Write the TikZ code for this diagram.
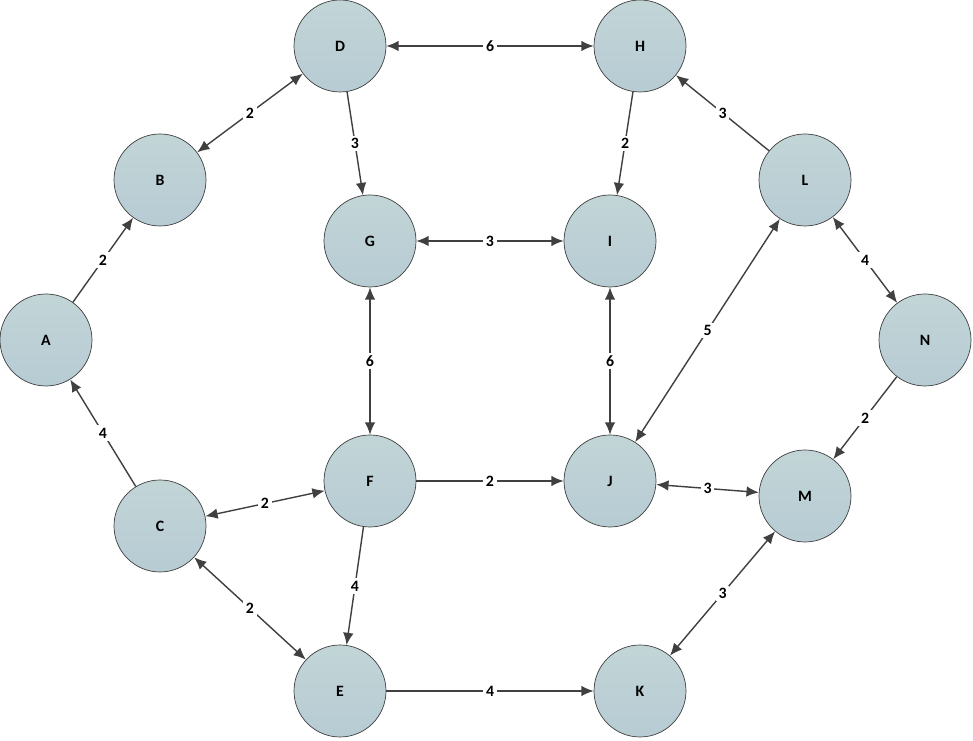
\documentclass[tikz,border=0pt]{standalone}
\usepackage{fontspec}
\setmainfont{Carlito}
\usetikzlibrary{arrows.meta}
\definecolor{edgegray}{HTML}{404040}
\tikzset{
  vertex/.style={circle,draw=edgegray,thin,minimum size=1.84cm,inner sep=0pt,
    top color=blue!8!cyan!20!gray!40,bottom color=blue!30!cyan!25!gray!45,
    font=\small\bfseries},
  link/.style={draw=edgegray,thick,-{Latex[length=7pt,width=6pt]}},
  both/.style={link,{Latex[length=7pt,width=6pt]}-{Latex[length=7pt,width=6pt]}},
  wt/.style={fill=white,inner sep=1.5pt,font=\small\bfseries}
}
\begin{document}
\begin{tikzpicture}
	\useasboundingbox (0,0) rectangle (19.46,14.82);
	
	%nodes
	\node[vertex] (D) at (6.8,13.9)  {D};
	\node[vertex] (H) at (12.8,13.9) {H};
	\node[vertex] (B) at (3.2,11.22) {B};
	\node[vertex] (G) at (7.4,10.0)  {G};
	\node[vertex] (I) at (12.2,10.0) {I};
	\node[vertex] (L) at (16.1,11.22){L};
	\node[vertex] (A) at (0.92,8.02) {A};
	\node[vertex] (N) at (18.5,8.02) {N};
	\node[vertex] (F) at (7.4,5.2)   {F};
	\node[vertex] (J) at (12.2,5.2)  {J};
	\node[vertex] (M) at (16.1,4.9)  {M};
	\node[vertex] (C) at (3.2,4.3)   {C};
	\node[vertex] (E) at (6.8,1.0)   {E};
	\node[vertex] (K) at (12.8,1.0)  {K};
	
	%edges
	\draw[both] (D)--(H) node[wt,midway]{6};
	\draw[both] (B)--(D) node[wt,midway]{2};
	\draw[link] (D)--(G) node[wt,midway]{3};
	\draw[link] (H)--(I) node[wt,midway]{2};
	\draw[link] (L)--(H) node[wt,midway]{3};
	\draw[both] (G)--(I) node[wt,midway]{3};
	\draw[both] (L)--(N) node[wt,midway]{4};
	\draw[link] (A)--(B) node[wt,midway]{2};
	\draw[link] (C)--(A) node[wt,midway]{4};
	\draw[both] (G)--(F) node[wt,midway]{6};
	\draw[both] (I)--(J) node[wt,midway]{6};
	\draw[both] (J)--(L) node[wt,midway]{5};
	\draw[link] (N)--(M) node[wt,midway]{2};
	\draw[both] (C)--(F) node[wt,midway]{2};
	\draw[link] (F)--(J) node[wt,midway]{2};
	\draw[both] (J)--(M) node[wt,midway]{3};
	\draw[link] (F)--(E) node[wt,midway]{4};
	\draw[both] (C)--(E) node[wt,midway]{2};
	\draw[link] (E)--(K) node[wt,midway]{4};
	\draw[both] (K)--(M) node[wt,midway]{3};
\end{tikzpicture}
\end{document}
